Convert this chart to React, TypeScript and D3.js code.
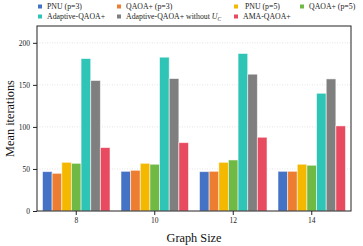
import { useEffect, useRef } from 'react'
import * as d3 from 'd3'

const W = 363
const H = 246
const MARGIN = { top: 26, right: 12, bottom: 35, left: 37 }

const graphSizes = ['8', '10', '12', '14']
const seriesNames = [
  'PNU (p=3)',
  'QAOA+ (p=3)',
  ' PNU (p=5)',
  'QAOA+ (p=5)',
  'Adaptive-QAOA+',
  'Adaptive-QAOA+ without U_C',
  'AMA-QAOA+',
]
const seriesColors = ['#4472c4', '#ed7d31', '#f5b800', '#70b944', '#2ec4b6', '#7f7f7f', '#e84a5f']

// mean iterations per graph size (8, 10, 12, 14)
const pnuP3 = [46.8, 47.2, 46.8, 47.2]
const qaoaP3 = [44.8, 48.4, 47.2, 47.2]
const pnuP5 = [57.9, 56.7, 57.9, 55.6]
const qaoaP5 = [56.7, 55.6, 60.7, 54.4]
const adaptive = [181.3, 182.9, 187.3, 140.0]
const adaptiveNoUc = [155.2, 157.5, 162.7, 157.1]
const amaQaoa = [75.4, 81.3, 87.7, 101.2]

const yTicks = [0, 50, 100, 150, 200]

const FONT = '"Liberation Serif", "DejaVu Serif", serif'

export default function App() {
  const svgRef = useRef<SVGSVGElement | null>(null)

  useEffect(() => {
    const el = svgRef.current
    if (!el) return
    const svg = d3.select(el)
    svg.selectAll('*').remove()

    const iW = W - MARGIN.left - MARGIN.right
    const iH = H - MARGIN.top - MARGIN.bottom
    const series = [pnuP3, qaoaP3, pnuP5, qaoaP5, adaptive, adaptiveNoUc, amaQaoa]

    const x0 = d3.scaleBand().domain(graphSizes).range([0, iW]).padding(0)
    const x1 = d3
      .scaleBand()
      .domain(d3.range(series.length).map(String))
      .range([0, x0.bandwidth() * 0.86])
    const y = d3.scaleLinear().domain([0, 220]).range([iH, 0])

    const root = svg.append('g').attr('transform', `translate(${MARGIN.left},${MARGIN.top})`)

    // grid
    root
      .append('g')
      .selectAll('line')
      .data(yTicks.filter((t) => t > 0))
      .join('line')
      .attr('x1', 0)
      .attr('x2', iW)
      .attr('y1', (d) => y(d))
      .attr('y2', (d) => y(d))
      .attr('stroke', '#d4d4d4')
      .attr('stroke-width', 0.6)
      .attr('stroke-dasharray', '1,1.5')

    // bars
    const offset = (x0.bandwidth() - x0.bandwidth() * 0.86) / 2
    series.forEach((vals, si) => {
      root
        .append('g')
        .selectAll('rect')
        .data(vals)
        .join('rect')
        .attr('x', (_, i) => (x0(graphSizes[i]) ?? 0) + offset + (x1(String(si)) ?? 0))
        .attr('width', x1.bandwidth())
        .attr('y', (d) => y(d))
        .attr('height', (d) => iH - y(d))
        .attr('fill', seriesColors[si])
        .attr('stroke', '#ffffff')
        .attr('stroke-opacity', 0.6)
        .attr('stroke-width', 0.9)
    })

    // frame
    root
      .append('rect')
      .attr('width', iW)
      .attr('height', iH)
      .attr('fill', 'none')
      .attr('stroke', '#222')
      .attr('stroke-width', 1)

    // axes
    root
      .append('g')
      .call(d3.axisLeft(y).tickValues(yTicks).tickSize(4).tickPadding(3))
      .call((g) => g.select('.domain').remove())
      .call((g) => g.selectAll('.tick line').attr('stroke', '#222'))
      .call((g) =>
        g.selectAll('.tick text').attr('font-family', FONT).attr('font-size', 7.5).attr('fill', '#222')
      )

    root
      .append('g')
      .attr('transform', `translate(0,${iH})`)
      .call(d3.axisBottom(x0).tickSize(4).tickPadding(3))
      .call((g) => g.select('.domain').remove())
      .call((g) => g.selectAll('.tick line').attr('stroke', '#222'))
      .call((g) =>
        g.selectAll('.tick text').attr('font-family', FONT).attr('font-size', 7.5).attr('fill', '#222')
      )

    // axis labels
    svg
      .append('text')
      .attr('x', MARGIN.left + iW / 2)
      .attr('y', H - 4)
      .attr('text-anchor', 'middle')
      .attr('font-family', FONT)
      .attr('font-size', 12.3)
      .attr('fill', '#111')
      .text('Graph Size')

    svg
      .append('text')
      .attr('transform', 'rotate(-90)')
      .attr('x', -(MARGIN.top + iH / 2))
      .attr('y', 13.5)
      .attr('text-anchor', 'middle')
      .attr('font-family', FONT)
      .attr('font-size', 12.3)
      .attr('fill', '#111')
      .text('Mean iterations')

    // legend
    const colX = [38, 117, 234, 300]
    const rowY = [6.5, 16.5]
    const legend = svg.append('g')
    seriesNames.forEach((name, i) => {
      const cx = colX[i % 4]
      const cy = rowY[Math.floor(i / 4)]
      const item = legend.append('g').attr('transform', `translate(${cx},${cy})`)
      item
        .append('rect')
        .attr('x', 0)
        .attr('y', -2)
        .attr('width', 4)
        .attr('height', 4)
        .attr('fill', seriesColors[i])
      const t = item
        .append('text')
        .attr('x', 9)
        .attr('y', 2.8)
        .attr('font-family', FONT)
        .attr('font-size', 7.8)
        .attr('fill', '#222')
        .attr('xml:space', 'preserve')
      if (name.endsWith('U_C')) {
        t.append('tspan').text(name.replace('U_C', ''))
        t.append('tspan').attr('font-style', 'italic').text('U')
        t.append('tspan').attr('font-style', 'italic').attr('font-size', 5.5).attr('dy', 1.6).text('C')
      } else {
        t.text(name)
      }
    })
  }, [])

  return (
    <svg
      ref={svgRef}
      width={W}
      height={H}
      style={{ position: 'absolute', left: 0, top: 0, background: '#fff' }}
    />
  )
}
